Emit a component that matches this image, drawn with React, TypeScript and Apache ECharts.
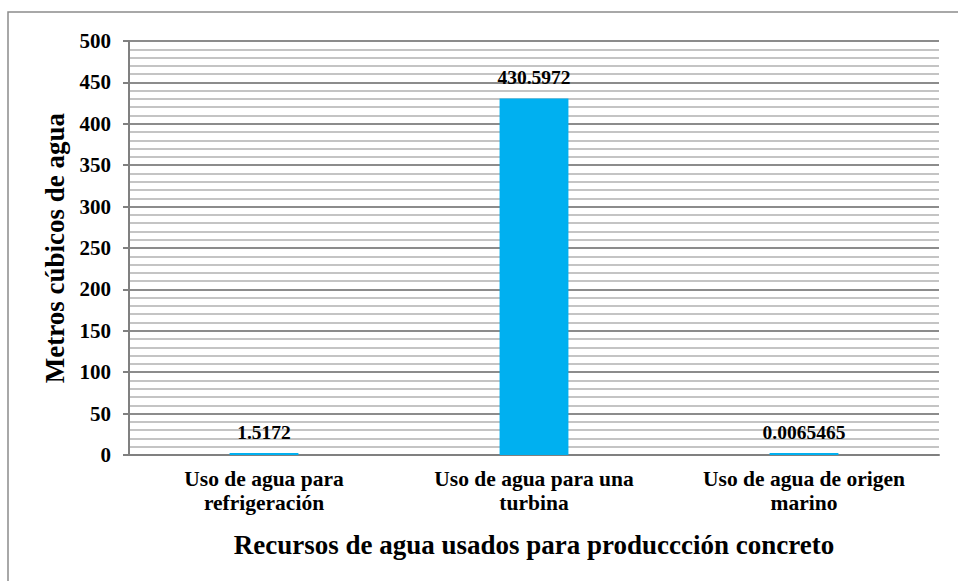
import React, { useEffect, useRef } from "react";
import * as echarts from "echarts";

const categories = [
  "Uso de agua para\nrefrigeración",
  "Uso de agua para una\nturbina",
  "Uso de agua de origen\nmarino",
];
const values = [1.5172, 430.5972, 0.0065465];
const valueLabels = ["1.5172", "430.5972", "0.0065465"];
const yAxisName = "Metros cúbicos de agua";
const xAxisName = "Recursos de agua usados para produccción concreto";

const FONT = '"Liberation Serif", "Times New Roman", serif';

export default function App() {
  const ref = useRef<HTMLDivElement>(null);
  useEffect(() => {
    if (!ref.current) return;
    const chart = echarts.init(ref.current, null, { renderer: "svg" });
    chart.setOption({
      animation: false,
      backgroundColor: "#ffffff",
      textStyle: { fontFamily: FONT },
      graphic: [
        {
          type: "rect",
          shape: { x: 8, y: 12, width: 960, height: 580 },
          style: { fill: "none", stroke: "#8c8c8c", lineWidth: 1.5 },
          silent: true,
          z: -10,
        },
      ],
      grid: { left: 129, top: 41, right: 19, bottom: 126, containLabel: false },
      xAxis: {
        type: "category",
        data: categories,
        name: xAxisName,
        nameLocation: "middle",
        nameGap: 76,
        nameTextStyle: { fontFamily: FONT, fontWeight: "bold", fontSize: 27, color: "#000" },
        axisLine: { show: true, lineStyle: { color: "#808080", width: 2 } },
        axisTick: { show: false },
        axisLabel: {
          fontFamily: FONT,
          fontWeight: "bold",
          fontSize: 21.5,
          color: "#000",
          margin: 12,
          lineHeight: 24,
          interval: 0,
        },
      },
      yAxis: {
        type: "value",
        min: 0,
        max: 500,
        interval: 50,
        name: yAxisName,
        nameLocation: "middle",
        nameGap: 56,
        nameTextStyle: { fontFamily: FONT, fontWeight: "bold", fontSize: 27, color: "#000" },
        axisLine: { show: true, lineStyle: { color: "#808080", width: 2 } },
        axisTick: { show: true, inside: false, length: 6, lineStyle: { color: "#808080", width: 2 } },
        axisLabel: {
          fontFamily: FONT,
          fontWeight: "bold",
          fontSize: 21,
          color: "#000",
          margin: 18,
        },
        splitLine: { show: true, lineStyle: { color: "#8c8c8c", width: 2 } },
        minorTick: { show: false, splitNumber: 5 },
        minorSplitLine: { show: true, lineStyle: { color: "#c4c4c4", width: 2 } },
      },
      series: [
        {
          type: "bar",
          data: values,
          barWidth: "25.5%",
          barMinHeight: 2,
          itemStyle: { color: "#00B0F0" },
          label: {
            show: true,
            position: "top",
            distance: 11,
            fontFamily: FONT,
            fontWeight: "bold",
            fontSize: 19.5,
            color: "#000",
            formatter: (p: any) => valueLabels[p.dataIndex],
          },
        },
      ],
    });
    return () => chart.dispose();
  }, []);
  return <div ref={ref} style={{ width: 958, height: 581, position: "absolute", left: 0, top: 0 }} />;
}
